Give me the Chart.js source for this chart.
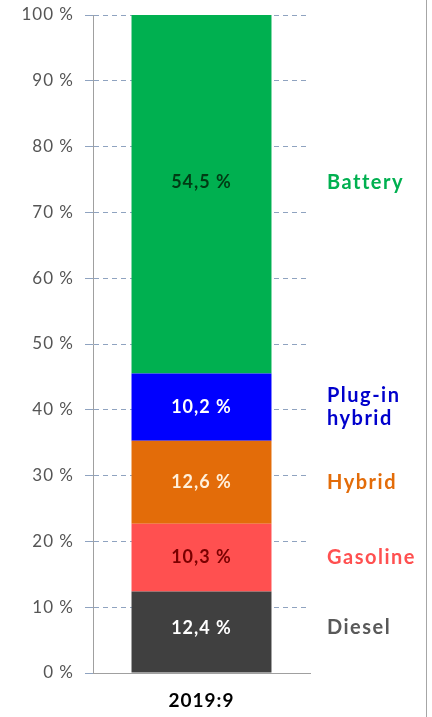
<!DOCTYPE html>
<html>
<head>
<meta charset="utf-8">
<script src="https://cdn.jsdelivr.net/npm/chart.js@4"></script>
<style>
  html, body { margin: 0; padding: 0; background: #fff; }
  #wrap { position: relative; width: 426px; height: 717px; border-right: 1px solid #a6a6a6; }
</style>
</head>
<body>
<div id="wrap"><canvas id="share-chart"></canvas></div>
<script>
// market share by powertrain, single month, bottom to top
const categories = ["2019:9"];
const seriesNames = ["Diesel", "Gasoline", "Hybrid", "Plug-in\nhybrid", "Battery"];
const seriesValues = [12.4, 10.3, 12.6, 10.2, 54.5];
const yTicks = [0, 10, 20, 30, 40, 50, 60, 70, 80, 90, 100];

const barColors = ["#404040", "#ff5050", "#e36c09", "#0000ff", "#00b050"];
const valueColors = ["#ffffff", "#7a0000", "#fff0dc", "#ffffff", "#003b14"];
const nameColors = ["#595959", "#ff5050", "#e36c09", "#0000cc", "#00b050"];
// battery labels sit a little above the middle of their segment
const labelShift = [-4, 0, 0, 0, -12];

const FONT = "Lato, sans-serif";

// slightly spaced-out lettering for all chart text
const spacing = {
  id: 'spacing',
  beforeLayout(chart) { chart.ctx.letterSpacing = '1px'; },
  beforeDraw(chart) { chart.ctx.letterSpacing = '1px'; }
};

// writes the percentages inside the bar and the series names to its right
const segmentLabels = {
  id: 'segmentLabels',
  afterDatasetsDraw(chart) {
    const ctx = chart.ctx;
    const area = chart.chartArea;
    ctx.save();
    chart.data.datasets.forEach((ds, i) => {
      const bar = chart.getDatasetMeta(i).data[0];
      const mid = (bar.y + bar.base) / 2 + labelShift[i];
      ctx.font = "bold 18px " + FONT;
      ctx.letterSpacing = '1px';
      ctx.textAlign = 'center';
      ctx.textBaseline = 'middle';
      ctx.fillStyle = valueColors[i];
      ctx.fillText(ds.data[0].toFixed(1).replace('.', ',') + ' %', bar.x, mid);

      const lines = seriesNames[i].split('\n');
      ctx.font = "bold 20px " + FONT;
      ctx.letterSpacing = '1.5px';
      ctx.textAlign = 'left';
      ctx.fillStyle = nameColors[i];
      const lh = 23;
      lines.forEach((t, k) => {
        ctx.fillText(t, area.right + 17, mid + (k - (lines.length - 1) / 2) * lh);
      });
    });
    ctx.restore();
  }
};

new Chart(document.getElementById('share-chart').getContext('2d'), {
  type: 'bar',
  data: {
    labels: categories,
    datasets: seriesNames.map((name, i) => ({
      label: name,
      data: [seriesValues[i]],
      backgroundColor: barColors[i],
      borderWidth: 0,
      barPercentage: 0.645,
      categoryPercentage: 1
    }))
  },
  options: {
    responsive: true,
    maintainAspectRatio: false,
    animation: false,
    layout: { padding: { top: 15, right: 116, bottom: 0, left: 0 } },
    plugins: {
      legend: { display: false },
      tooltip: { enabled: false }
    },
    scales: {
      x: {
        stacked: true,
        grid: { display: false },
        border: { display: true, color: '#a0a0a0' },
        ticks: { color: '#000', font: { family: FONT, size: 19, weight: 'bold' }, padding: 8 },
        afterFit(scale) { scale.height = 44; }
      },
      y: {
        stacked: true,
        min: 0,
        max: 100,
        afterBuildTicks(scale) { scale.ticks = yTicks.map(v => ({ value: v })); },
        ticks: {
          color: '#555555',
          font: { family: FONT, size: 17 },
          padding: 11,
          callback: v => v + ' %'
        },
        grid: {
          color: '#8fa3c0',
          lineWidth: 1,
          tickLength: 8,
          tickColor: '#8fa3c0'
        },
        border: { display: true, color: '#a0a0a0', dash: [5, 4] },
        afterFit(scale) {
          scale.width = 93;
          scale.paddingTop = 0;
          scale.paddingBottom = 0;
        }
      }
    }
  },
  plugins: [spacing, segmentLabels]
});
</script>
</body>
</html>
